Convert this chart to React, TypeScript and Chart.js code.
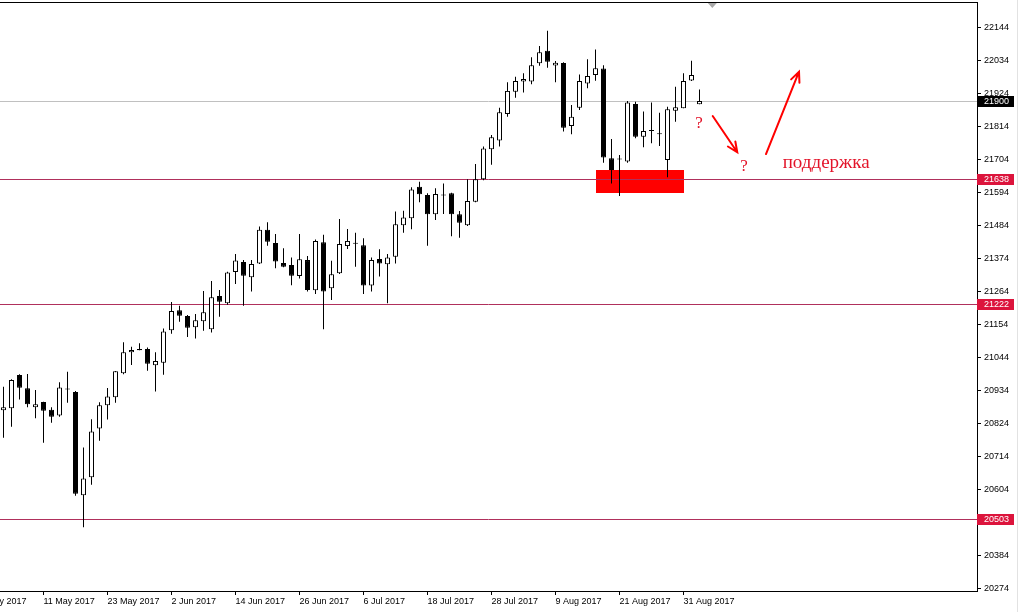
import { useEffect, useRef } from "react";
import { Chart, registerables } from "chart.js";

Chart.register(...registerables);

// Trading days (index = position on the time axis)
const days = [
  "1 May 2017", "2 May 2017", "3 May 2017", "4 May 2017", "5 May 2017", "8 May 2017", "9 May 2017", "10 May 2017",
  "11 May 2017", "12 May 2017", "15 May 2017", "16 May 2017", "17 May 2017", "18 May 2017", "19 May 2017", "22 May 2017",
  "23 May 2017", "24 May 2017", "25 May 2017", "26 May 2017", "29 May 2017", "30 May 2017", "31 May 2017",
  "1 Jun 2017", "2 Jun 2017", "5 Jun 2017", "6 Jun 2017", "7 Jun 2017", "8 Jun 2017", "9 Jun 2017", "12 Jun 2017",
  "13 Jun 2017", "14 Jun 2017", "15 Jun 2017", "16 Jun 2017", "19 Jun 2017", "20 Jun 2017", "21 Jun 2017", "22 Jun 2017",
  "23 Jun 2017", "26 Jun 2017", "27 Jun 2017", "28 Jun 2017", "29 Jun 2017", "30 Jun 2017",
  "3 Jul 2017", "4 Jul 2017", "5 Jul 2017", "6 Jul 2017", "7 Jul 2017", "10 Jul 2017", "11 Jul 2017", "12 Jul 2017",
  "13 Jul 2017", "14 Jul 2017", "17 Jul 2017", "18 Jul 2017", "19 Jul 2017", "20 Jul 2017", "21 Jul 2017", "24 Jul 2017",
  "25 Jul 2017", "26 Jul 2017", "27 Jul 2017", "28 Jul 2017", "31 Jul 2017",
  "1 Aug 2017", "2 Aug 2017", "3 Aug 2017", "4 Aug 2017", "7 Aug 2017", "8 Aug 2017", "9 Aug 2017", "10 Aug 2017",
  "11 Aug 2017", "14 Aug 2017", "15 Aug 2017", "16 Aug 2017", "17 Aug 2017", "18 Aug 2017", "21 Aug 2017", "22 Aug 2017",
  "23 Aug 2017", "24 Aug 2017", "25 Aug 2017", "28 Aug 2017", "29 Aug 2017", "30 Aug 2017", "31 Aug 2017",
  "1 Sep 2017", "4 Sep 2017",
];

const opens: (number | null)[] = [
  null, null, null,
  20868, 20874, 20985, 20941, 20878, 20895, 20869, 20850, 20939, 20929,
  20584, 20644, 20807, 20884, 20911, 20991, 21061, 21072, 21072, 21018,
  21026, 21135, 21202, 21182, 21145, 21165, 21138, 21249, 21225, 21329,
  21363, 21312, 21358, 21470, 21426, 21359, 21353, 21316, 21369, 21268,
  21429, 21275, 21325, 21416, 21426, 21419, 21284, 21373, 21355, 21380,
  21485, 21509, 21614, 21586, 21522, 21588, 21592, 21522, 21485, 21564,
  21639, 21739, 21768, 21857, 21931, 21965, 21965, 22026, 22068, 22019,
  22027, 21817, 21878, 21959, 21987, 22009, 21709, 21707, 21698, 21890,
  21781, 21802, 21791, 21703, 21868, 21876, 21969, 21889,
];

const highs: (number | null)[] = [
  null, null, null,
  20946, 20971, 20988, 20989, 20935, 20896, 20878, 20961, 20996, 20932,
  20743, 20838, 20894, 20942, 20999, 21095, 21080, 21091, 21077, 21061,
  21141, 21229, 21217, 21186, 21189, 21266, 21299, 21269, 21330, 21389,
  21369, 21369, 21481, 21495, 21456, 21409, 21378, 21456, 21383, 21438,
  21454, 21367, 21506, 21473, 21460, 21442, 21378, 21405, 21389, 21531,
  21534, 21612, 21631, 21592, 21609, 21625, 21594, 21533, 21639, 21690,
  21748, 21787, 21878, 21963, 21981, 21993, 22046, 22084, 22135, 22034,
  22030, 21887, 21989, 22040, 22072, 22020, 21773, 21720, 21900, 21898,
  21865, 21895, 21861, 21881, 21948, 21993, 22035, 21939,
];

const lows: (number | null)[] = [
  null, null, null,
  20776, 20813, 20904, 20878, 20841, 20759, 20826, 20846, 20893, 20582,
  20477, 20619, 20766, 20837, 20893, 20988, 21019, 21068, 21000, 20930,
  20986, 21123, 21163, 21112, 21107, 21133, 21127, 21180, 21220, 21289,
  21217, 21264, 21356, 21417, 21342, 21345, 21285, 21308, 21264, 21256,
  21138, 21236, 21323, 21406, 21347, 21256, 21264, 21314, 21225, 21358,
  21460, 21472, 21562, 21417, 21503, 21523, 21449, 21444, 21483, 21562,
  21636, 21687, 21748, 21848, 21911, 21929, 21956, 22018, 22011, 21963,
  21798, 21789, 21870, 21943, 21968, 21694, 21625, 21583, 21694, 21776,
  21746, 21759, 21750, 21646, 21831, 21876, 21967, 21889,
];

const closes: (number | null)[] = [
  null, null, null,
  20878, 20969, 20943, 20888, 20888, 20866, 20846, 20944, 20937, 20589,
  20640, 20797, 20884, 20914, 20998, 21061, 21069, 21068, 21023, 21032,
  21131, 21199, 21183, 21143, 21168, 21195, 21245, 21230, 21328, 21368,
  21317, 21356, 21470, 21430, 21364, 21347, 21317, 21372, 21269, 21433,
  21264, 21322, 21423, 21433, 21424, 21284, 21369, 21358, 21378, 21489,
  21511, 21605, 21589, 21522, 21590, 21585, 21522, 21494, 21566, 21639,
  21742, 21779, 21863, 21934, 21967, 21974, 22020, 22063, 22031, 22028,
  21811, 21848, 21967, 21984, 22010, 21712, 21670, 21705, 21895, 21781,
  21800, 21800, 21789, 21873, 21879, 21967, 21987, 21900,
];

// Axis ticks
const xTickIndices = [0, 8, 16, 24, 32, 40, 48, 56, 64, 72, 80, 88];
const yTickValues = [
  20274, 20384, 20494, 20604, 20714, 20824, 20934, 21044, 21154,
  21264, 21374, 21484, 21594, 21704, 21814, 21924, 22034, 22144,
];

// Visible window
const xView = [2.5625, 124.6875];
const yView = [20264.2, 22230.8];

// Drawn objects (in time-index / price units)
const levels = [21638, 21222, 20503];
const currentPrice = 21900;
const supportZone = { from: 77, to: 88, low: 21594, high: 21670 };
const arrows = [
  { from: [91.65, 21850], to: [94.72, 21729] },
  { from: [98.31, 21723], to: [102.44, 21998] },
];
const questionMarks = [
  [89.94, 21810],
  [95.56, 21667],
];
const supportLabel = { text: "поддержка", at: [100.4, 21675] };
const shiftMarkerIndex = 91.6;

const LABEL_FONT = '9px "Liberation Sans", Arial, sans-serif';
const LEVEL_LINE = "#b0305c";
const LEVEL_TAG = "#dc143c";
const NOTE_RED = "#e3142a";

const overlay = {
  id: "overlay",
  beforeDraw(chart: any) {
    const { ctx, width, height } = chart;
    ctx.save();
    ctx.fillStyle = "#ffffff";
    ctx.fillRect(0, 0, width, height);
    ctx.restore();
  },
  beforeDatasetsDraw(chart: any) {
    const { ctx, chartArea: a, scales } = chart;
    const x = scales.x;
    const y = scales.y;
    ctx.save();
    ctx.beginPath();
    ctx.rect(a.left, a.top, a.right - a.left, a.bottom - a.top);
    ctx.clip();
    // support zone rectangle
    const zx0 = Math.round(x.getPixelForValue(supportZone.from));
    const zx1 = Math.round(x.getPixelForValue(supportZone.to));
    const zy0 = Math.round(y.getPixelForValue(supportZone.high));
    const zy1 = Math.round(y.getPixelForValue(supportZone.low));
    ctx.fillStyle = "#ff0000";
    ctx.fillRect(zx0, zy0, zx1 - zx0, zy1 - zy0);
    const hline = (v: number, color: string) => {
      const py = Math.floor(y.getPixelForValue(v)) + 0.5;
      ctx.strokeStyle = color;
      ctx.lineWidth = 1;
      ctx.beginPath();
      ctx.moveTo(a.left, py);
      ctx.lineTo(a.right, py);
      ctx.stroke();
    };
    hline(currentPrice, "#c0c0c0");
    levels.forEach((v) => hline(v, LEVEL_LINE));
    ctx.restore();
  },
  afterDraw(chart: any) {
    const { ctx, chartArea: a, scales } = chart;
    const x = scales.x;
    const y = scales.y;
    ctx.save();
    // top frame
    ctx.fillStyle = "#000000";
    ctx.fillRect(a.left, a.top, a.right - a.left + 1, 1);
    // shift marker
    const mx = x.getPixelForValue(shiftMarkerIndex);
    ctx.fillStyle = "#a8a8a8";
    ctx.beginPath();
    ctx.moveTo(mx - 4.5, a.top + 1);
    ctx.lineTo(mx + 4.5, a.top + 1);
    ctx.lineTo(mx, a.top + 6);
    ctx.closePath();
    ctx.fill();
    // window edge
    ctx.fillStyle = "#e2e2e2";
    ctx.fillRect(chart.width - 2, 0, 1, chart.height);

    // arrows
    ctx.strokeStyle = "#ff0000";
    ctx.lineWidth = 2;
    ctx.lineCap = "round";
    arrows.forEach((ar) => {
      const x0 = x.getPixelForValue(ar.from[0]);
      const y0 = y.getPixelForValue(ar.from[1]);
      const x1 = x.getPixelForValue(ar.to[0]);
      const y1 = y.getPixelForValue(ar.to[1]);
      const ang = Math.atan2(y1 - y0, x1 - x0);
      const len = 11;
      const spread = 0.42;
      ctx.beginPath();
      ctx.moveTo(x0, y0);
      ctx.lineTo(x1, y1);
      ctx.moveTo(x1 - len * Math.cos(ang - spread), y1 - len * Math.sin(ang - spread));
      ctx.lineTo(x1, y1);
      ctx.lineTo(x1 - len * Math.cos(ang + spread), y1 - len * Math.sin(ang + spread));
      ctx.stroke();
    });

    // notes
    ctx.fillStyle = NOTE_RED;
    ctx.textBaseline = "alphabetic";
    ctx.font = '17px "Liberation Serif", "Times New Roman", serif';
    ctx.textAlign = "center";
    questionMarks.forEach((q) => {
      ctx.fillText("?", x.getPixelForValue(q[0]), y.getPixelForValue(q[1]));
    });
    ctx.font = '19px "Liberation Serif", "Times New Roman", serif';
    ctx.textAlign = "left";
    ctx.fillText(
      supportLabel.text,
      x.getPixelForValue(supportLabel.at[0]),
      y.getPixelForValue(supportLabel.at[1])
    );

    // price tags on the axis
    const tag = (v: number, bg: string) => {
      const py = Math.floor(y.getPixelForValue(v));
      ctx.fillStyle = bg;
      ctx.fillRect(a.right, py - 5, 37, 11);
      ctx.fillStyle = "#ffffff";
      ctx.font = LABEL_FONT;
      ctx.textAlign = "left";
      ctx.textBaseline = "middle";
      ctx.fillText(String(v), a.right + 7, py + 0.5);
    };
    tag(currentPrice, "#000000");
    levels.forEach((v) => tag(v, LEVEL_TAG));
    ctx.restore();
  },
};

export default function App() {
  const ref = useRef<HTMLCanvasElement>(null);
  useEffect(() => {
    document.body.style.margin = "0";
    const idx = days.map((_, i) => i).filter((i) => opens[i] != null);
    const bodies = idx.map((i) => ({
      x: i,
      y: [Math.min(opens[i]!, closes[i]!), Math.max(opens[i]!, closes[i]!)],
    }));
    const wicks = idx.map((i) => ({ x: i, y: [lows[i]!, highs[i]!] }));
    const fills = idx.map((i) => (closes[i]! > opens[i]! ? "#ffffff" : "#000000"));

    const chart = new Chart(ref.current as HTMLCanvasElement, {
      type: "bar",
      data: {
        datasets: [
          {
            label: "body",
            data: bodies as any,
            backgroundColor: fills,
            borderColor: "#000000",
            borderWidth: 1,
            borderSkipped: false,
            barThickness: 5,
            minBarLength: 1,
            grouped: false,
            inflateAmount: 0,
            order: 0,
          } as any,
          {
            label: "wick",
            data: wicks as any,
            backgroundColor: "#000000",
            borderWidth: 0,
            barThickness: 1,
            grouped: false,
            inflateAmount: 0,
            order: 1,
          } as any,
        ],
      },
      options: {
        responsive: false,
        animation: false,
        devicePixelRatio: 1,
        layout: { padding: { top: 2, left: 0, right: 0, bottom: 0 } },
        plugins: { legend: { display: false }, tooltip: { enabled: false } },
        scales: {
          x: {
            type: "linear",
            position: "bottom",
            min: xView[0],
            max: xView[1],
            offset: false,
            grid: {
              display: true,
              drawOnChartArea: false,
              drawTicks: true,
              tickLength: 4,
              color: "#000000",
              offset: false,
            },
            border: { display: true, color: "#000000" },
            ticks: {
              autoSkip: false,
              maxRotation: 0,
              minRotation: 0,
              align: "start",
              padding: 1,
              color: "#000000",
              font: { family: '"Liberation Sans", Arial, sans-serif', size: 9 },
              callback: (v: any) => days[Math.round(Number(v))] ?? "",
            },
            afterBuildTicks: (s: any) => {
              s.ticks = xTickIndices.map((v) => ({ value: v }));
            },
            afterFit: (s: any) => {
              s.height = 21;
              s.paddingLeft = 0;
              s.paddingRight = 0;
            },
          } as any,
          y: {
            type: "linear",
            position: "right",
            min: yView[0],
            max: yView[1],
            beginAtZero: false,
            grid: {
              display: true,
              drawOnChartArea: false,
              drawTicks: true,
              tickLength: 4,
              color: "#000000",
            },
            border: { display: true, color: "#000000" },
            ticks: {
              padding: 3,
              color: "#000000",
              font: { family: '"Liberation Sans", Arial, sans-serif', size: 9 },
              callback: (v: any) => String(v),
            },
            afterBuildTicks: (s: any) => {
              s.ticks = yTickValues.map((v) => ({ value: v }));
            },
            afterFit: (s: any) => {
              s.width = 42;
              s.paddingTop = 0;
              s.paddingBottom = 0;
            },
          } as any,
        },
      },
      plugins: [overlay],
    });
    return () => chart.destroy();
  }, []);
  return (
    <canvas
      ref={ref}
      width={1019}
      height={612}
      style={{ display: "block", width: "1019px", height: "612px" }}
    />
  );
}
